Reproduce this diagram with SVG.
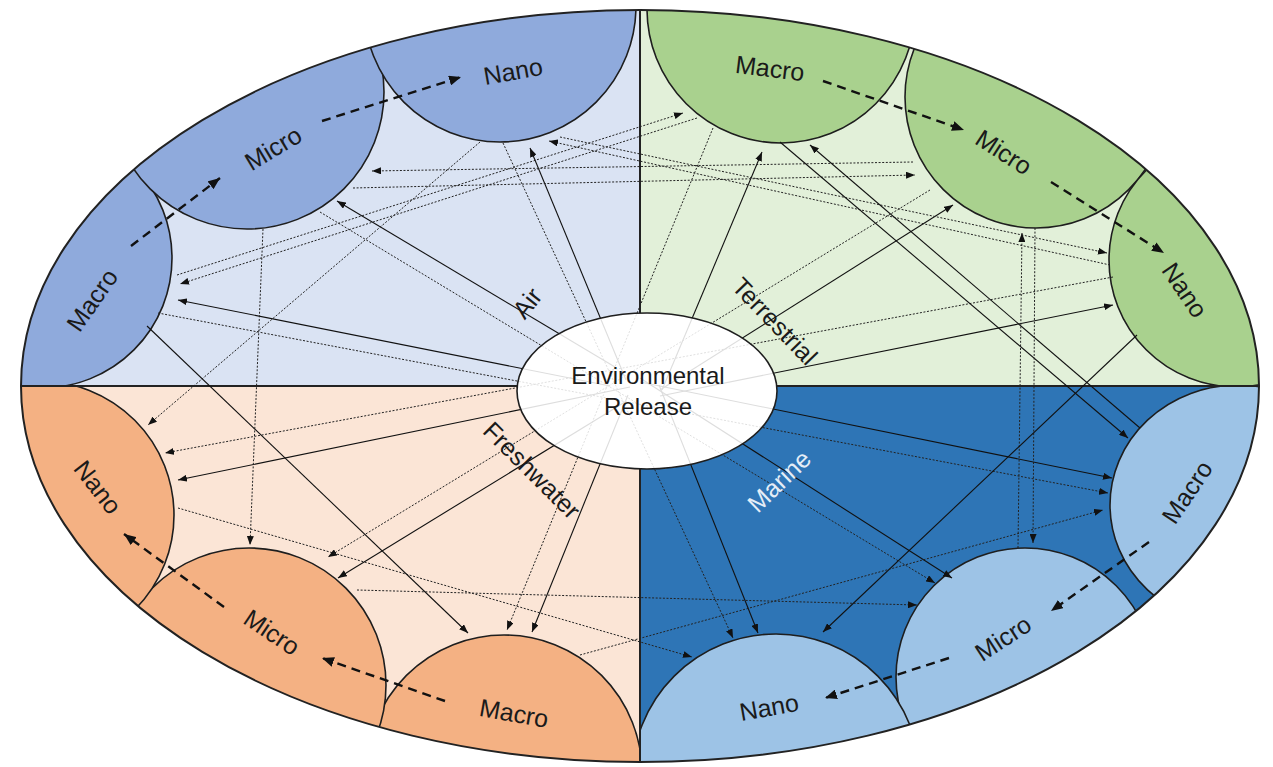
<svg xmlns="http://www.w3.org/2000/svg" width="1273" height="767" viewBox="0 0 1273 767">
<style>
.air{fill:#8faadc;stroke:#1e1e1e;stroke-width:1.6}
.ter{fill:#a9d18e;stroke:#1e1e1e;stroke-width:1.6}
.fre{fill:#f4b183;stroke:#1e1e1e;stroke-width:1.6}
.mar{fill:#9dc3e6;stroke:#1e1e1e;stroke-width:1.6}
.lbl{font-family:"Liberation Sans",Arial,sans-serif;font-size:25px;fill:#1a1a1a;text-anchor:middle}
.sol{stroke:#111;stroke-width:1.1;fill:none;marker-end:url(#a)}
.dot{stroke:#222;stroke-width:1;stroke-dasharray:2 1.6;fill:none;marker-end:url(#a)}
.dash{stroke:#111;stroke-width:2.4;stroke-dasharray:9 6;fill:none;marker-end:url(#b)}
.frame{fill:none;stroke:#222;stroke-width:2}
</style>
<defs>
<marker id="a" viewBox="0 0 9 7" refX="9" refY="3.5" markerWidth="9" markerHeight="7" markerUnits="userSpaceOnUse" orient="auto"><path d="M0,0L9,3.5L0,7z" fill="#111"/></marker>
<marker id="b" viewBox="0 0 12 10" refX="12" refY="5" markerWidth="12" markerHeight="10" markerUnits="userSpaceOnUse" orient="auto"><path d="M0,0L12,5L0,10z" fill="#111"/></marker>
<clipPath id="qTL"><path d="M21,386 A619,376 0 0 1 640,10 L640,386 Z"/></clipPath>
<clipPath id="qTR"><path d="M640,10 A619,376 0 0 1 1259,386 L640,386 Z"/></clipPath>
<clipPath id="qBR"><path d="M1259,386 A619,376 0 0 1 640,762 L640,386 Z"/></clipPath>
<clipPath id="qBL"><path d="M640,762 A619,376 0 0 1 21,386 L640,386 Z"/></clipPath>
</defs>
<rect width="1273" height="767" fill="#ffffff"/>
<g id="background">
<path d="M21,386 A619,376 0 0 1 640,10 L640,386 Z" fill="#dae3f3"/>
<path d="M640,10 A619,376 0 0 1 1259,386 L640,386 Z" fill="#e2f0d9"/>
<path d="M1259,386 A619,376 0 0 1 640,762 L640,386 Z" fill="#2e75b6"/>
<path d="M640,762 A619,376 0 0 1 21,386 L640,386 Z" fill="#fbe5d6"/>
</g>
<g id="air-macro" clip-path="url(#qTL)"><circle class="air" cx="42" cy="258" r="130"/><text class="lbl" transform="translate(92,300) rotate(-55)" y="9">Macro</text></g>
<g id="air-micro" clip-path="url(#qTL)"><circle class="air" cx="247" cy="92" r="137"/><text class="lbl" transform="translate(273,148) rotate(-31)" y="9">Micro</text></g>
<g id="air-nano" clip-path="url(#qTL)"><circle class="air" cx="500" cy="6" r="136"/><text class="lbl" transform="translate(513,71) rotate(-10)" y="9">Nano</text></g>
<g id="terrestrial-macro" clip-path="url(#qTR)"><circle class="ter" cx="781" cy="9" r="134"/><text class="lbl" transform="translate(770,68) rotate(7)" y="9">Macro</text></g>
<g id="terrestrial-micro" clip-path="url(#qTR)"><circle class="ter" cx="1036" cy="97" r="131"/><text class="lbl" transform="translate(1004,152) rotate(33)" y="9">Micro</text></g>
<g id="terrestrial-nano" clip-path="url(#qTR)"><circle class="ter" cx="1236" cy="260" r="127"/><text class="lbl" transform="translate(1185,290) rotate(56)" y="9">Nano</text></g>
<g id="freshwater-macro" clip-path="url(#qBL)"><circle class="fre" cx="504" cy="773" r="138"/><text class="lbl" transform="translate(514,713) rotate(10)" y="9">Macro</text></g>
<g id="freshwater-micro" clip-path="url(#qBL)"><circle class="fre" cx="249" cy="685" r="137"/><text class="lbl" transform="translate(272,632) rotate(34)" y="9">Micro</text></g>
<g id="freshwater-nano" clip-path="url(#qBL)"><circle class="fre" cx="40" cy="515" r="134"/><text class="lbl" transform="translate(98,487) rotate(52)" y="9">Nano</text></g>
<g id="marine-macro" clip-path="url(#qBR)"><ellipse class="mar" cx="1238" cy="505" rx="128" ry="120"/><text class="lbl" transform="translate(1187,492) rotate(-56)" y="9">Macro</text></g>
<g id="marine-micro" clip-path="url(#qBR)"><circle class="mar" cx="1025" cy="677" r="129"/><text class="lbl" transform="translate(1003,638) rotate(-33)" y="9">Micro</text></g>
<g id="marine-nano" clip-path="url(#qBR)"><circle class="mar" cx="776" cy="778" r="144"/><text class="lbl" transform="translate(769,707) rotate(-10)" y="9">Nano</text></g>
<g id="frame">
<ellipse class="frame" cx="640" cy="386" rx="619" ry="376"/>
<line class="frame" x1="640" y1="10" x2="640" y2="762"/>
<line class="frame" x1="21" y1="386" x2="1259" y2="386"/>
</g>
<ellipse id="er-base" cx="647" cy="391" rx="130" ry="78" fill="#ffffff"/>
<g id="connectors">
<line class="sol" x1="610" y1="386" x2="178" y2="300"/>
<line class="sol" x1="615" y1="367" x2="337" y2="201"/>
<line class="sol" x1="626" y1="380" x2="530" y2="148"/>
<line class="sol" x1="662" y1="390" x2="762" y2="152"/>
<line class="sol" x1="660" y1="390" x2="953" y2="205"/>
<line class="sol" x1="660" y1="396" x2="1113" y2="305"/>
<line class="sol" x1="630" y1="387" x2="178" y2="480"/>
<line class="sol" x1="625" y1="402" x2="338" y2="578"/>
<line class="sol" x1="628" y1="395" x2="532" y2="632"/>
<line class="sol" x1="640" y1="382" x2="1112" y2="478"/>
<line class="sol" x1="640" y1="378" x2="952" y2="578"/>
<line class="sol" x1="659" y1="385" x2="758" y2="633"/>
<line class="dot" x1="177" y1="275" x2="683" y2="113"/>
<line class="dot" x1="697" y1="118" x2="180" y2="284"/>
<line class="dot" x1="353" y1="188" x2="915" y2="175"/>
<line class="dot" x1="913" y1="162" x2="372" y2="171"/>
<line class="dot" x1="560" y1="137" x2="1107" y2="253"/>
<line class="dot" x1="1110" y1="265" x2="549" y2="141"/>
<line class="sol" x1="147" y1="326" x2="468" y2="633"/>
<line class="dot" x1="263" y1="229" x2="250" y2="545"/>
<line class="dot" x1="480" y1="142" x2="148" y2="425"/>
<line class="dot" x1="320" y1="212" x2="935" y2="583"/>
<line class="dot" x1="503" y1="143" x2="733" y2="638"/>
<line class="dot" x1="158" y1="313" x2="1108" y2="493"/>
<line class="dot" x1="713" y1="128" x2="507" y2="630"/>
<line class="dot" x1="930" y1="190" x2="328" y2="557"/>
<line class="dot" x1="1113" y1="277" x2="165" y2="453"/>
<line class="sol" x1="780" y1="142" x2="1128" y2="438"/>
<line class="sol" x1="1140" y1="428" x2="810" y2="145"/>
<line class="dot" x1="1035" y1="228" x2="1033" y2="543"/>
<line class="dot" x1="1018" y1="548" x2="1022" y2="233"/>
<line class="sol" x1="1137" y1="335" x2="823" y2="632"/>
<line class="dot" x1="178" y1="508" x2="692" y2="657"/>
<line class="dot" x1="357" y1="590" x2="917" y2="605"/>
<line class="dot" x1="580" y1="655" x2="1103" y2="510"/>
<line class="dash" x1="131" y1="246" x2="220" y2="178"/>
<line class="dash" x1="322" y1="121" x2="461" y2="77"/>
<line class="dash" x1="823" y1="81" x2="964" y2="130"/>
<line class="dash" x1="1051" y1="182" x2="1164" y2="253"/>
<line class="dash" x1="445" y1="701" x2="322" y2="658"/>
<line class="dash" x1="224" y1="607" x2="124" y2="534"/>
<line class="dash" x1="1149" y1="542" x2="1051" y2="611"/>
<line class="dash" x1="949" y1="658" x2="825" y2="698"/>
</g>
<g id="environmental-release">
<ellipse cx="647" cy="391" rx="130" ry="78" fill="#ffffff" fill-opacity="0.86" stroke="#1e1e1e" stroke-width="1.6"/>
<text class="lbl" x="648" y="384" style="font-size:24px">Environmental</text>
<text class="lbl" x="648" y="415" style="font-size:24px">Release</text>
</g>
<g id="compartment-labels">
<text class="lbl" transform="translate(527,303) rotate(-52)" y="9">Air</text>
<text class="lbl" transform="translate(775,321) rotate(46)" y="9">Terrestrial</text>
<text class="lbl" transform="translate(532,470) rotate(45)" y="9">Freshwater</text>
<text class="lbl" transform="translate(779,481) rotate(-44)" y="9" style="fill:#e4edf7">Marine</text>
</g>
</svg>
